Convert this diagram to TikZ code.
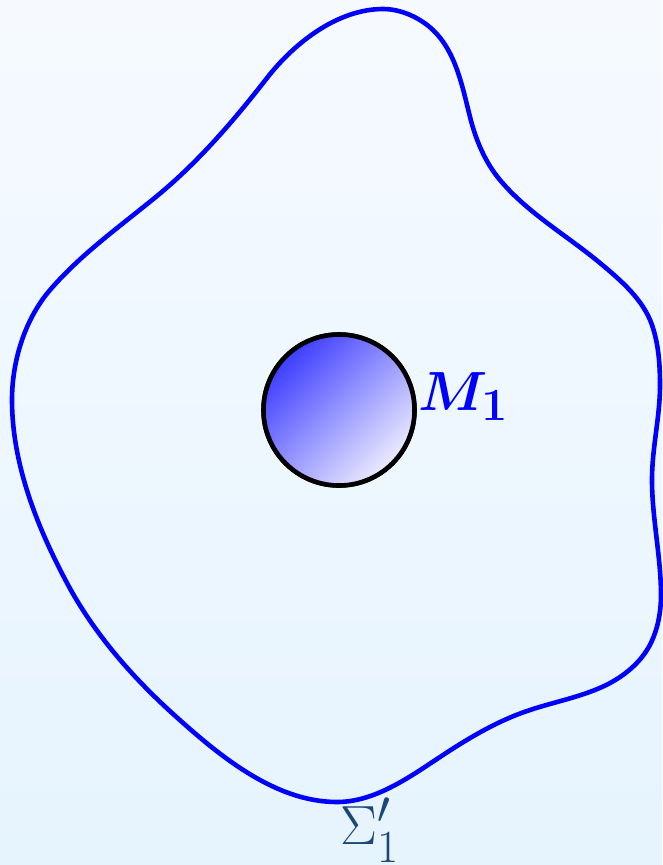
\documentclass[tikz,border=0pt]{standalone}
\usepackage{graphicx}
\usepackage{amsmath}
\definecolor{bgtop}{HTML}{F6FAFF}
\definecolor{bgbot}{HTML}{E6F4FE}
\definecolor{sigcol}{HTML}{1B4676}
\newcommand{\biglab}[1]{\scalebox{2.22}{\Huge #1}}
\tikzset{
  surface/.style={draw=blue, line width=4.6pt, line join=round},
  mass/.style={circle, draw=black, line width=4.6pt, minimum size=151pt, inner sep=0pt},
  biglabel/.style={inner sep=0pt}
}
\begin{document}
\begin{tikzpicture}[x=1pt,y=-1pt]
\shade[top color=bgtop, bottom color=bgbot] (0,0) rectangle (662,865);
\useasboundingbox (0,0) rectangle (662,865);
\draw[surface] (383,9)
  .. controls (401,9) and (419.9,17.6) .. (433,30)
  .. controls (455.8,51.7) and (462.3,86.4) .. (470,117)
  .. controls (475.7,139.6) and (485,162.2) .. (500,180)
  .. controls (527.8,213.2) and (566.7,235.3) .. (600,263)
  .. controls (620.8,280.3) and (643.2,299.5) .. (652,325)
  .. controls (658.6,344.1) and (660,364.8) .. (660,385)
  .. controls (660,417.8) and (652,447.2) .. (652,480)
  .. controls (652,518) and (661,557) .. (661,595)
  .. controls (661,615) and (656.5,636.6) .. (645,653)
  .. controls (634.5,668) and (618.7,679.5) .. (602,687)
  .. controls (579,697.3) and (553.9,702.1) .. (530,710)
  .. controls (497.9,720.5) and (468.2,738.3) .. (440,757)
  .. controls (408.7,777.7) and (374.5,802) .. (337,802)
  .. controls (274.5,802) and (218.3,755) .. (172,713)
  .. controls (130.8,675.6) and (93.2,632.1) .. (67,583)
  .. controls (37,526.8) and (12,463.7) .. (12,400)
  .. controls (12,361.2) and (24.7,319.4) .. (50,290)
  .. controls (81,254) and (120.3,226.2) .. (157,196)
  .. controls (198.5,161.8) and (234,120.4) .. (267,78)
  .. controls (294.6,42.5) and (338,9) .. (383,9) -- cycle;
\node[mass] (m1) at (339,410) {};
\shade[top color=blue!75, bottom color=blue!8, shading angle=45] (m1.center) circle (74);
\draw[line width=4.6pt] (m1.center) circle (75.5);
\node[biglabel, anchor=base west, text=blue] (lm) at (418,410) {\biglab{$\boldsymbol{M_1}$}};
\node[biglabel, anchor=base west, text=sigcol] (ls) at (340,844) {\biglab{$\Sigma'_1$}};
\end{tikzpicture}
\end{document}
